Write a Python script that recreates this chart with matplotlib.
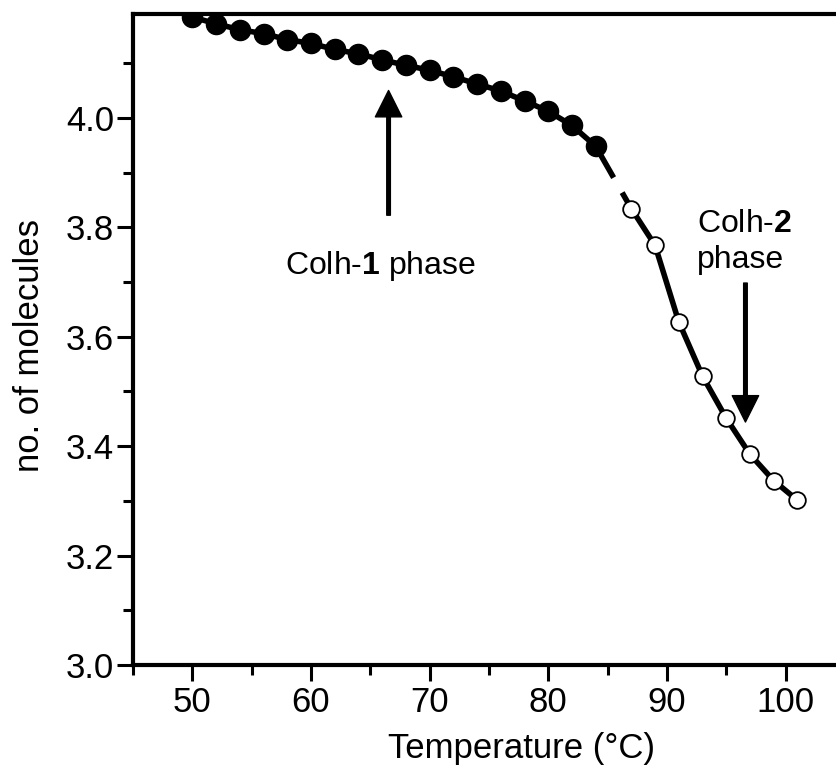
import numpy as np
import matplotlib.pyplot as plt
from matplotlib.ticker import MultipleLocator

plt.rcParams['font.family'] = ['Liberation Sans', 'DejaVu Sans']
plt.rcParams['mathtext.fontset'] = 'custom'
plt.rcParams['mathtext.rm'] = 'Liberation Sans'
plt.rcParams['mathtext.bf'] = 'Liberation Sans:bold'

# Colh-1 phase (filled circles)
temp_1 = [50, 52, 54, 56, 58, 60, 62, 64, 66, 68, 70, 72, 74, 76, 78, 80, 82, 84]
mol_1 = [4.184, 4.172, 4.161, 4.154, 4.143, 4.136, 4.125, 4.117, 4.106,
         4.096, 4.087, 4.075, 4.062, 4.049, 4.031, 4.012, 3.986, 3.948]

# Colh-2 phase (open circles)
temp_2 = [87, 89, 91, 93, 95, 97, 99, 101]
mol_2 = [3.834, 3.767, 3.627, 3.528, 3.451, 3.385, 3.337, 3.301]

fig = plt.figure(figsize=(8.36, 7.66), dpi=100)
ax = fig.add_axes([0.1591, 0.1319, 0.843, 0.85])

# dashed transition between the two phases
ax.plot([temp_1[-1], temp_2[0]], [mol_1[-1], mol_2[0]], color='k', lw=4,
        dashes=(6.5, 3.1), dash_capstyle='butt', zorder=1)

ax.plot(temp_1, mol_1, '-o', color='k', lw=4, ms=14.5, mfc='k', mec='k', zorder=2)
ax.plot(temp_2, mol_2, '-o', color='k', lw=4, ms=12, mfc='white', mec='k',
        mew=1.3, zorder=2)

ax.set_xlim(45, 104.4)
ax.set_ylim(3.0, 4.19)
ax.xaxis.set_major_locator(MultipleLocator(10))
ax.xaxis.set_minor_locator(MultipleLocator(5))
ax.yaxis.set_major_locator(MultipleLocator(0.2))
ax.yaxis.set_minor_locator(MultipleLocator(0.1))
ax.yaxis.set_major_formatter(plt.FormatStrFormatter('%.1f'))

for side in ['left', 'bottom', 'top']:
    ax.spines[side].set_linewidth(3)
ax.spines['right'].set_visible(False)

ax.tick_params(which='major', direction='out', length=11.5, width=2.2, labelsize=25)
ax.tick_params(which='minor', direction='out', length=7, width=2.2)
ax.tick_params(axis='x', which='major', pad=4)
ax.tick_params(axis='y', which='major', pad=2)

ax.set_xlabel('Temperature (°C)', fontsize=25)
ax.xaxis.set_label_coords(0.5506, -0.103)
ax.set_ylabel('no. of molecules', fontsize=25)
ax.yaxis.set_label_coords(-0.123, 0.49)

arrow = dict(facecolor='k', edgecolor='k', width=2.6, headwidth=19, headlength=19, shrink=0)
ax.annotate('', xy=(66.54, 4.05), xytext=(66.54, 3.822), arrowprops=arrow)
ax.annotate('', xy=(96.62, 3.444), xytext=(96.62, 3.698), arrowprops=arrow)

ax.text(65.84, 3.714, 'Colh-$\\mathbf{1}$ phase', fontsize=23, ha='center', va='baseline')
ax.text(92.53, 3.791, 'Colh-$\\mathbf{2}$', fontsize=23, ha='left', va='baseline')
ax.text(92.53, 3.725, 'phase', fontsize=23, ha='left', va='baseline')

fig.savefig('out.png', dpi=100)
plt.close(fig)
